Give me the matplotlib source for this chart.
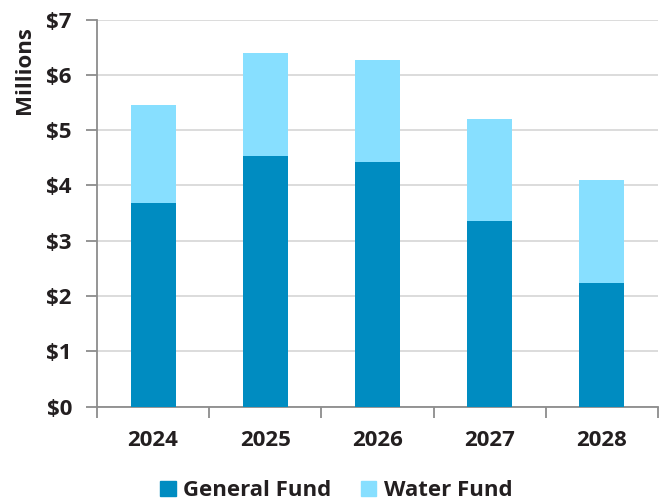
import matplotlib
matplotlib.use("Agg")
import matplotlib.pyplot as plt
from matplotlib.patches import Patch
import numpy as np

years = ["2024", "2025", "2026", "2027", "2028"]
general_fund = [3.69, 4.54, 4.42, 3.35, 2.24]
water_fund = [1.77, 1.85, 1.85, 1.85, 1.85]
y_ticks = [0, 1, 2, 3, 4, 5, 6, 7]
y_labels = ["$0", "$1", "$2", "$3", "$4", "$5", "$6", "$7"]

c_gen = "#008CC1"
c_wat = "#87DFFF"
txt = "#231F20"
axc = "#8C8C8C"

plt.rcParams['font.family'] = ['Open Sans', 'DejaVu Sans']

fig = plt.figure(figsize=(6.66, 5.03), dpi=100)
ax = fig.add_axes([0.1456, 0.1918, 0.8424, 0.7692])

x = np.arange(len(years))
ax.bar(x, general_fund, width=0.40, color=c_gen, zorder=3)
ax.bar(x, water_fund, width=0.40, bottom=general_fund, color=c_wat, zorder=3)

ax.set_xlim(-0.5, 4.5)
ax.set_ylim(0, 7)
ax.set_yticks(y_ticks)
ax.set_yticklabels(y_labels, fontsize=16, fontweight='bold', color=txt)
ax.set_xticks(x)
ax.set_xticklabels(years, fontsize=16, fontweight='bold', color=txt)
ax.set_xticks(np.arange(-0.5, 5.0, 1.0), minor=True)
ax.tick_params(axis='x', which='major', length=0, pad=17)
ax.tick_params(axis='x', which='minor', length=8, width=1.3, color=axc, direction='out')
ax.tick_params(axis='y', which='major', length=8, width=1.3, color=axc, direction='out', pad=10)

ax.grid(axis='y', color='#D9D9D9', linewidth=1.3, zorder=0)
for s in ['top', 'right']:
    ax.spines[s].set_visible(False)
for s in ['left', 'bottom']:
    ax.spines[s].set_color(axc)
    ax.spines[s].set_linewidth(1.3)

fig.text(0.0375, 0.861, "Millions", rotation=90, ha='center', va='center',
         fontsize=16, fontweight='bold', color=txt)

handles = [Patch(color=c_gen, label="General Fund"), Patch(color=c_wat, label="Water Fund")]
fig.legend(handles=handles, loc='center', bbox_to_anchor=(0.505, 0.024), ncol=2,
           frameon=False, prop={'size': 16, 'weight': 'bold'}, handlelength=0.7,
           handleheight=0.7, handletextpad=0.35, columnspacing=1.3, labelcolor=txt,
           borderpad=0.1)

fig.savefig("out.png", dpi=100)
